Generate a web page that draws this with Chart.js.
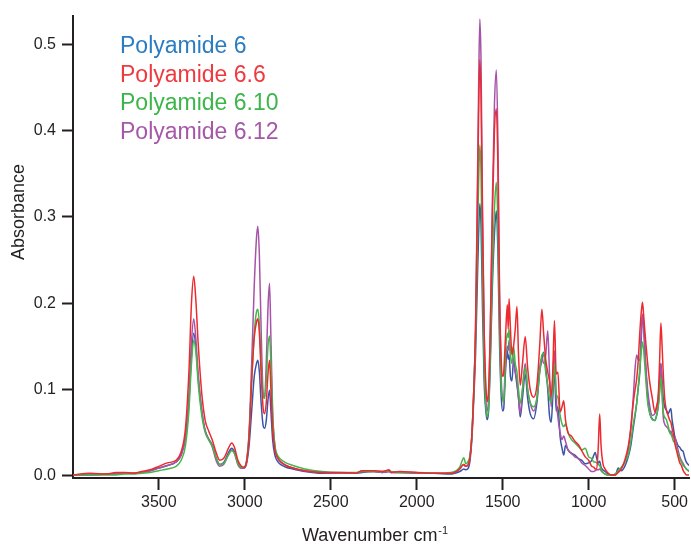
<!DOCTYPE html>
<html>
<head>
<meta charset="utf-8">
<script src="https://cdn.jsdelivr.net/npm/chart.js@4.4.1/dist/chart.umd.min.js"></script>
<style>
  html, body { margin: 0; padding: 0; background: #fff; }
  #wrap { width: 691px; height: 545px; position: relative; }
</style>
</head>
<body>
<div id="wrap"><canvas id="irChart"></canvas></div>
<script>
// wavenumbers (cm-1), shared by all four spectra
const wavenumbers = [
  4000, 3900, 3800, 3750, 3700, 3650, 3600, 3550, 3500, 3450,
  3400, 3370, 3345, 3325, 3310, 3297, 3285, 3270, 3250, 3230, 3210, 3190, 3165, 3145, 3120, 3095, 3076, 3060, 3040, 3020, 3006, 2990, 2975,
  2960, 2945, 2932, 2924, 2915, 2905, 2893, 2885, 2875, 2865, 2856, 2848, 2838, 2825, 2810, 2790, 2760, 2720, 2650, 2550,
  2450, 2350, 2320, 2250, 2200, 2160, 2150, 2100, 2000, 1900, 1800, 1780, 1750, 1735,
  1726, 1715, 1700, 1690, 1680, 1668, 1658, 1648, 1640, 1633, 1626, 1618, 1608, 1598, 1590, 1582, 1572, 1560, 1548, 1537,
  1528, 1518, 1508, 1500, 1494, 1484, 1473, 1468, 1463, 1455, 1446, 1437, 1427, 1417, 1408, 1398, 1385, 1369, 1355, 1340,
  1320, 1301, 1285, 1272, 1262, 1250, 1238, 1228, 1218, 1209, 1199, 1189, 1179, 1166, 1155, 1145, 1135, 1120, 1100, 1080,
  1060, 1040, 1020, 1000, 982, 970, 962, 953, 944, 936, 928, 918, 905, 886, 866, 845, 828, 810, 790, 770,
  755, 741, 730, 721, 713, 702, 694, 687, 680, 669, 657, 644, 630, 615, 605, 596, 588, 580, 573, 567,
  558, 548, 538, 528, 522, 515, 507, 499, 490, 480, 470, 461, 450, 440, 432, 416
];

const pa6 = [
  0.001, 0.001, 0.002, 0.002, 0.003, 0.003, 0.004, 0.006, 0.009, 0.012,
  0.016, 0.024, 0.045, 0.085, 0.140, 0.165, 0.150, 0.112, 0.075, 0.052, 0.043, 0.036, 0.020, 0.013, 0.016, 0.027, 0.032, 0.028, 0.015, 0.009, 0.009, 0.014, 0.035,
  0.075, 0.115, 0.130, 0.134, 0.120, 0.085, 0.058, 0.055, 0.064, 0.088, 0.099, 0.075, 0.042, 0.024, 0.017, 0.013, 0.010, 0.008, 0.005, 0.003,
  0.003, 0.003, 0.004, 0.005, 0.004, 0.005, 0.004, 0.004, 0.003, 0.003, 0.002, 0.003, 0.005, 0.007,
  0.008, 0.007, 0.009, 0.018, 0.040, 0.090, 0.140, 0.220, 0.280, 0.315, 0.290, 0.200, 0.110, 0.075, 0.065, 0.075, 0.130, 0.220, 0.280, 0.307,
  0.260, 0.150, 0.090, 0.075, 0.078, 0.120, 0.145, 0.135, 0.140, 0.115, 0.110, 0.135, 0.120, 0.105, 0.090, 0.068, 0.090, 0.118, 0.090, 0.072,
  0.066, 0.085, 0.120, 0.135, 0.143, 0.125, 0.100, 0.070, 0.062, 0.090, 0.122, 0.075, 0.080, 0.045, 0.032, 0.024, 0.035, 0.030, 0.026, 0.024,
  0.020, 0.018, 0.014, 0.015, 0.018, 0.024, 0.027, 0.020, 0.015, 0.017, 0.010, 0.007, 0.005, 0.002, 0.001, 0.001, 0.009, 0.006, 0.011, 0.022,
  0.035, 0.055, 0.070, 0.084, 0.100, 0.122, 0.160, 0.187, 0.175, 0.130, 0.090, 0.072, 0.066, 0.064, 0.070, 0.080, 0.100, 0.130, 0.110, 0.091,
  0.080, 0.076, 0.072, 0.076, 0.078, 0.065, 0.055, 0.045, 0.040, 0.035, 0.033, 0.030, 0.028, 0.020, 0.016, 0.012
];

const pa66 = [
  0.001, 0.003, 0.002, 0.004, 0.004, 0.003, 0.005, 0.007, 0.011, 0.015,
  0.018, 0.028, 0.055, 0.120, 0.200, 0.231, 0.205, 0.150, 0.095, 0.064, 0.052, 0.042, 0.026, 0.018, 0.021, 0.032, 0.038, 0.033, 0.018, 0.011, 0.010, 0.016, 0.045,
  0.110, 0.160, 0.178, 0.182, 0.165, 0.120, 0.078, 0.072, 0.085, 0.118, 0.134, 0.100, 0.055, 0.030, 0.021, 0.016, 0.012, 0.009, 0.006, 0.004,
  0.004, 0.003, 0.006, 0.006, 0.005, 0.007, 0.004, 0.005, 0.004, 0.003, 0.003, 0.004, 0.008, 0.012,
  0.013, 0.011, 0.013, 0.022, 0.045, 0.100, 0.170, 0.300, 0.420, 0.482, 0.440, 0.300, 0.170, 0.105, 0.086, 0.100, 0.170, 0.300, 0.400, 0.425,
  0.360, 0.200, 0.130, 0.115, 0.120, 0.160, 0.198, 0.170, 0.205, 0.170, 0.140, 0.150, 0.170, 0.196, 0.140, 0.105, 0.130, 0.161, 0.125, 0.100,
  0.091, 0.105, 0.150, 0.193, 0.165, 0.135, 0.120, 0.110, 0.092, 0.120, 0.180, 0.118, 0.120, 0.074, 0.080, 0.087, 0.065, 0.050, 0.046, 0.040,
  0.036, 0.029, 0.022, 0.018, 0.011, 0.010, 0.008, 0.008, 0.034, 0.0715, 0.035, 0.015, 0.008, 0.003, 0.001, 0.001, 0.004, 0.008, 0.018, 0.034,
  0.055, 0.084, 0.100, 0.112, 0.130, 0.168, 0.190, 0.201, 0.185, 0.157, 0.130, 0.107, 0.090, 0.074, 0.080, 0.091, 0.130, 0.177, 0.150, 0.122,
  0.090, 0.076, 0.070, 0.064, 0.062, 0.055, 0.048, 0.038, 0.030, 0.022, 0.015, 0.012, 0.006, 0.003, 0.001, 0.001
];

const pa610 = [
  0.001, 0.001, 0.001, 0.001, 0.002, 0.002, 0.003, 0.004, 0.006, 0.008,
  0.011, 0.018, 0.035, 0.075, 0.130, 0.157, 0.145, 0.105, 0.070, 0.050, 0.042, 0.035, 0.020, 0.013, 0.015, 0.024, 0.029, 0.026, 0.014, 0.010, 0.010, 0.017, 0.048,
  0.110, 0.165, 0.190, 0.193, 0.175, 0.130, 0.092, 0.090, 0.110, 0.150, 0.162, 0.130, 0.070, 0.035, 0.024, 0.019, 0.015, 0.012, 0.008, 0.005,
  0.004, 0.004, 0.005, 0.005, 0.005, 0.006, 0.005, 0.004, 0.004, 0.003, 0.004, 0.005, 0.010, 0.018,
  0.021, 0.014, 0.017, 0.024, 0.045, 0.100, 0.160, 0.260, 0.340, 0.383, 0.350, 0.240, 0.130, 0.080, 0.068, 0.080, 0.140, 0.240, 0.310, 0.340,
  0.290, 0.170, 0.100, 0.090, 0.085, 0.140, 0.165, 0.160, 0.170, 0.140, 0.130, 0.150, 0.130, 0.120, 0.100, 0.084, 0.100, 0.126, 0.100, 0.085,
  0.080, 0.090, 0.120, 0.140, 0.142, 0.120, 0.105, 0.090, 0.085, 0.100, 0.130, 0.095, 0.091, 0.070, 0.060, 0.057, 0.060, 0.050, 0.042, 0.038,
  0.034, 0.030, 0.032, 0.022, 0.020, 0.016, 0.016, 0.015, 0.013, 0.012, 0.008, 0.004, 0.002, 0.001, 0.001, 0.002, 0.006, 0.010, 0.016, 0.024,
  0.040, 0.060, 0.072, 0.084, 0.100, 0.125, 0.145, 0.155, 0.145, 0.115, 0.085, 0.072, 0.065, 0.064, 0.070, 0.080, 0.095, 0.114, 0.095, 0.075,
  0.068, 0.065, 0.058, 0.050, 0.048, 0.045, 0.040, 0.038, 0.032, 0.025, 0.020, 0.016, 0.012, 0.010, 0.008, 0.006
];

const pa612 = [
  0.001, 0.001, 0.002, 0.002, 0.003, 0.003, 0.004, 0.006, 0.009, 0.012,
  0.016, 0.024, 0.045, 0.090, 0.155, 0.182, 0.160, 0.115, 0.075, 0.052, 0.042, 0.034, 0.017, 0.011, 0.014, 0.025, 0.030, 0.026, 0.013, 0.009, 0.009, 0.016, 0.050,
  0.130, 0.220, 0.275, 0.289, 0.255, 0.170, 0.095, 0.090, 0.130, 0.195, 0.223, 0.160, 0.075, 0.035, 0.022, 0.016, 0.012, 0.009, 0.006, 0.004,
  0.003, 0.003, 0.005, 0.005, 0.004, 0.005, 0.004, 0.004, 0.003, 0.003, 0.003, 0.004, 0.008, 0.012,
  0.013, 0.011, 0.013, 0.022, 0.045, 0.100, 0.170, 0.320, 0.450, 0.529, 0.480, 0.320, 0.170, 0.090, 0.075, 0.090, 0.170, 0.320, 0.430, 0.470,
  0.390, 0.210, 0.110, 0.090, 0.085, 0.130, 0.150, 0.145, 0.157, 0.140, 0.149, 0.130, 0.120, 0.110, 0.090, 0.072, 0.100, 0.130, 0.100, 0.084,
  0.075, 0.090, 0.125, 0.137, 0.130, 0.140, 0.168, 0.120, 0.080, 0.110, 0.145, 0.090, 0.068, 0.050, 0.042, 0.046, 0.040, 0.030, 0.026, 0.022,
  0.020, 0.015, 0.012, 0.008, 0.005, 0.005, 0.006, 0.007, 0.007, 0.008, 0.006, 0.004, 0.002, 0.001, 0.001, 0.002, 0.005, 0.009, 0.016, 0.030,
  0.055, 0.090, 0.125, 0.140, 0.135, 0.134, 0.165, 0.187, 0.170, 0.130, 0.100, 0.080, 0.070, 0.072, 0.080, 0.090, 0.110, 0.130, 0.100, 0.070,
  0.060, 0.057, 0.055, 0.050, 0.052, 0.048, 0.045, 0.045, 0.038, 0.030, 0.022, 0.018, 0.014, 0.010, 0.008, 0.005
];

const seriesNames = ['Polyamide 6', 'Polyamide 6.6', 'Polyamide 6.10', 'Polyamide 6.12'];
const seriesValues = [pa6, pa66, pa610, pa612];
const xTicks = [3500, 3000, 2500, 2000, 1500, 1000, 500];
const yTicks = [0, 0.1, 0.2, 0.3, 0.4, 0.5];

const lineColors = ['#3b55a6', '#ed2a2e', '#45b649', '#a653a8'];
const textColors = ['#2b7cc1', '#ee3a3f', '#3db54a', '#a657a8'];
const drawOrder = [4, 1, 2, 3]; // red on top, blue underneath
const ink = '#231f20';
const fontFam = '"Liberation Sans", Arial, Helvetica, sans-serif';

// titles and the text legend are drawn straight onto the canvas
const overlay = {
  id: 'overlay',
  afterDraw(chart) {
    const ctx = chart.ctx;
    ctx.save();
    ctx.textBaseline = 'alphabetic';
    ctx.textAlign = 'left';
    ctx.font = '23px ' + fontFam;
    seriesNames.forEach((name, i) => {
      ctx.fillStyle = textColors[i];
      ctx.fillText(name, 120, 53 + i * 28.5);
    });

    ctx.fillStyle = ink;
    ctx.font = '18px ' + fontFam;
    const main = 'Wavenumber cm';
    ctx.fillText(main, 302, 541);
    const w = ctx.measureText(main).width;
    ctx.font = '11px ' + fontFam;
    ctx.fillText('-1', 302 + w + 1, 534);

    ctx.translate(19, 212);
    ctx.rotate(-Math.PI / 2);
    ctx.font = '18px ' + fontFam;
    ctx.textAlign = 'center';
    ctx.textBaseline = 'middle';
    ctx.fillText('Absorbance', 0, 0);
    ctx.restore();
  }
};

const ctx = document.getElementById('irChart').getContext('2d');
new Chart(ctx, {
  type: 'line',
  data: {
    datasets: seriesNames.map((name, i) => ({
      label: name,
      data: wavenumbers.map((wn, j) => ({ x: wn, y: seriesValues[i][j] })),
      borderColor: lineColors[i],
      borderWidth: 1.5,
      pointRadius: 0,
      fill: false,
      cubicInterpolationMode: 'monotone',
      order: drawOrder[i]
    }))
  },
  options: {
    responsive: true,
    maintainAspectRatio: false,
    animation: false,
    devicePixelRatio: 1,
    layout: { padding: { top: 14, right: 0, left: 0, bottom: 0 } },
    plugins: {
      legend: { display: false },
      tooltip: { enabled: false }
    },
    scales: {
      x: {
        type: 'linear',
        reverse: true,
        min: 416,
        max: 3999,
        afterBuildTicks: s => { s.ticks = xTicks.map(v => ({ value: v })); },
        afterFit: s => { s.height = 67; },
        ticks: {
          color: ink,
          font: { family: fontFam, size: 16 },
          padding: 3,
          maxRotation: 0,
          autoSkip: false,
          callback: v => String(v)
        },
        grid: { drawOnChartArea: false, drawTicks: true, tickLength: 12, tickWidth: 2, tickColor: ink },
        border: { display: true, color: ink, width: 2 }
      },
      y: {
        type: 'linear',
        min: -0.0025,
        max: 0.533,
        afterBuildTicks: s => { s.ticks = yTicks.map(v => ({ value: v })); },
        afterFit: s => { s.width = 73; },
        ticks: {
          color: ink,
          font: { family: fontFam, size: 16 },
          padding: 6,
          callback: v => v.toFixed(1)
        },
        grid: { drawOnChartArea: false, drawTicks: true, tickLength: 11, tickWidth: 2, tickColor: ink },
        border: { display: true, color: ink, width: 2 }
      }
    }
  },
  plugins: [overlay]
});
</script>
</body>
</html>
